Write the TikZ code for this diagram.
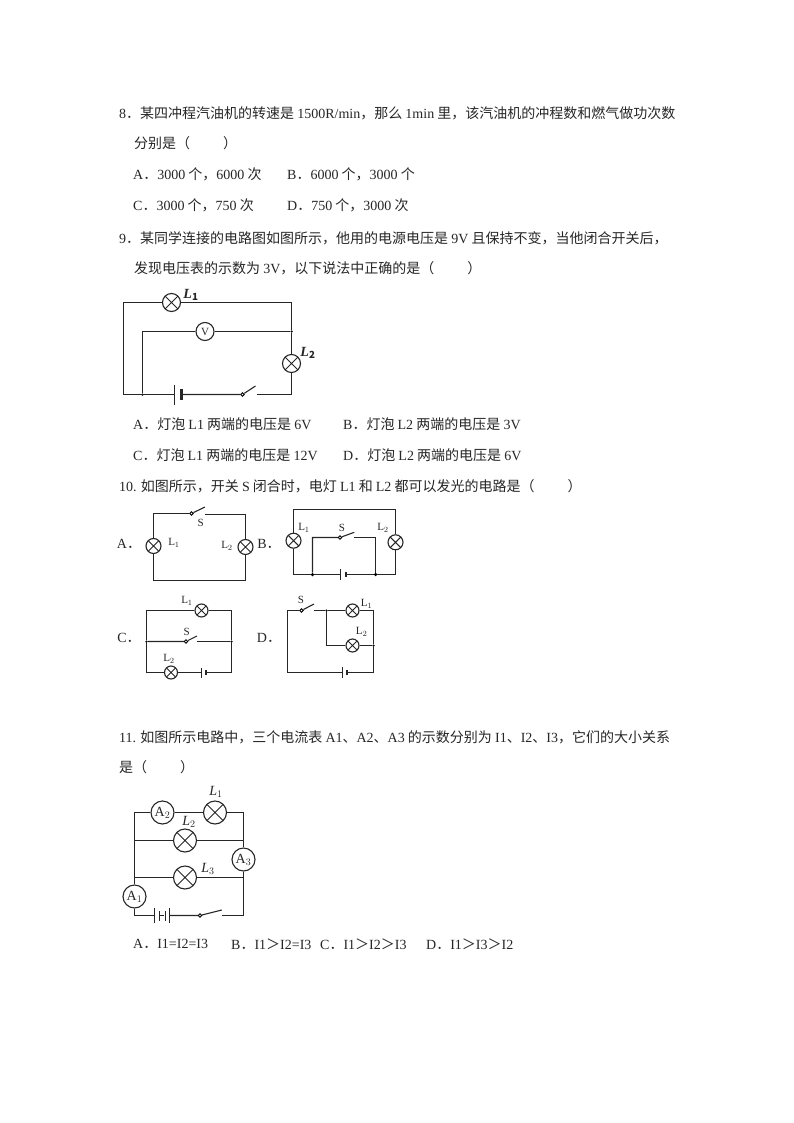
\documentclass[tikz,border=0pt]{standalone}
\usepackage{fontspec}
\setmainfont{Noto Sans CJK SC}
\newfontfamily\latfont{Liberation Serif}
\newcommand{\lat}[1]{{\latfont #1}}
\newcommand{\gap}{\hspace{33pt}}
\usetikzlibrary{positioning}
\tikzset{
  wire/.style={line width=1.1pt,black!85},
  lamp/.style={circle,draw,line width=1.1pt,black!85,inner sep=0pt,minimum size=#1,
    path picture={\draw[line width=1pt,black!85]
      (path picture bounding box.north west) -- (path picture bounding box.south east)
      (path picture bounding box.north east) -- (path picture bounding box.south west);}},
  meter/.style={circle,draw,line width=1.1pt,black!85,inner sep=0pt,minimum size=#1,font=\latfont\fontsize{14}{14}\selectfont},
  post/.style={circle,draw,fill=white,line width=0.8pt,inner sep=0pt,minimum size=3.5pt},
  junc/.style={circle,fill=black,inner sep=0pt,minimum size=3.5pt},
  plate/.style={fill=black!85,inner sep=0pt,minimum width=#1},
  line/.style={right,inner sep=0pt,font=\fontsize{14}{14}\selectfont,text=black!85},
  tag/.style={inner sep=0pt,font=\latfont\fontsize{11}{11}\selectfont,text=black!85},
  choice/.style={inner sep=0pt,font=\fontsize{14}{14}\selectfont,text=black!85},
  bigtag/.style={inner sep=0pt,font=\latfont\bfseries\itshape\fontsize{14}{14}\selectfont,text=black!85},
  slanttag/.style={inner sep=0pt,font=\latfont\itshape\fontsize{14}{14}\selectfont,text=black!85}
}
\begin{document}
\begin{tikzpicture}[x=1pt,y=-1pt]
\useasboundingbox (0,0) rectangle (794,1123);

\foreach \y/\x/\t [count=\n] in {
  113/119/{\lat{8}．某四冲程汽油机的转速是 \lat{1500R/min}，那么 \lat{1min} 里，该汽油机的冲程数和燃气做功次数},
  143/134/{分别是（\gap ）},
  174/133/{\lat{A}．\lat{3000} 个，\lat{6000} 次},
  174/287/{\lat{B}．\lat{6000} 个，\lat{3000} 个},
  205/133/{\lat{C}．\lat{3000} 个，\lat{750} 次},
  205/287/{\lat{D}．\lat{750} 个，\lat{3000} 次},
  238/119/{\lat{9}．某同学连接的电路图如图所示，他用的电源电压是 \lat{9V} 且保持不变，当他闭合开关后，},
  268/134/{发现电压表的示数为 \lat{3V}，以下说法中正确的是（\gap ）},
  424/133/{\lat{A}．灯泡 \lat{L1} 两端的电压是 \lat{6V}},
  424/343/{\lat{B}．灯泡 \lat{L2} 两端的电压是 \lat{3V}},
  455/133/{\lat{C}．灯泡 \lat{L1} 两端的电压是 \lat{12V}},
  455/343/{\lat{D}．灯泡 \lat{L2} 两端的电压是 \lat{6V}},
  486/119/{\lat{10.} 如图所示，开关 \lat{S} 闭合时，电灯 \lat{L1} 和 \lat{L2} 都可以发光的电路是（\gap ）},
  737/119/{\lat{11.} 如图所示电路中，三个电流表 \lat{A1}、\lat{A2}、\lat{A3} 的示数分别为 \lat{I1}、\lat{I2}、\lat{I3}，它们的大小关系},
  767/119/{是（\gap ）},
  944/133/{\lat{A}．\lat{I1=I2=I3}},
  944/231/{\lat{B}．\lat{I1}＞\lat{I2=I3}},
  944/320/{\lat{C}．\lat{I1}＞\lat{I2}＞\lat{I3}},
  944/426/{\lat{D}．\lat{I1}＞\lat{I3}＞\lat{I2}}}
  \node[line] (txt\n) at (\x,\y) {\t};

\node[lamp=18pt] (p1) at (171.5,302.5) {};
\node[lamp=18pt] (p2) at (291.5,363.5) {};
\node[meter=18pt] (pv) at (205,331.5) {\fontsize{11}{11}\selectfont V};
\node[junc,minimum size=2.5pt] (pj1) at (291.5,331.5) {};
\node[junc,minimum size=2.5pt] (pj2) at (142.5,394.5) {};
\node[plate=1pt,minimum height=20pt] (pb1) at (174.5,394.5) {};
\node[plate=3pt,minimum height=11pt] (pb2) at (181,394.5) {};
\node[post] (ps) at (242.5,394.5) {};
\coordinate (pt) at (255.5,386);
\coordinate (pr) at (256.5,394.5);
\coordinate (pc1) at (123.5,302.5);
\coordinate (pc2) at (291.5,302.5);
\coordinate (pc3) at (142.5,331.5);
\coordinate (pc4) at (123.5,394.5);
\coordinate (pc5) at (291.5,394.5);
\draw[wire] (pb1) -- (pc4) -- (pc1) -- (p1) -- (pc2) -- (pj1) -- (p2) -- (pc5) -- (pr);
\draw[wire] (pj1) -- (pv) -- (pc3) -- (pj2);
\draw[wire] (pb2) -- (ps) -- (pt);
\node[bigtag] (pl1) at (191,295) {L$_{\mathbf 1}$};
\node[bigtag] (pl2) at (308,352.7) {L$_{\mathbf 2}$};

\node[choice] (qa) at (129,544) {\lat{A}．};
\node[lamp=15pt] (a1) at (153.5,546) {};
\node[lamp=15pt] (a2) at (245.5,547) {};
\node[post] (as) at (191.5,513.5) {};
\coordinate (at) at (205,507);
\coordinate (ar) at (205,514.5);
\coordinate (ac1) at (153.5,513.5);
\coordinate (ac2) at (245.5,514.5);
\coordinate (ac3) at (245.5,580.5);
\coordinate (ac4) at (153.5,580.5);
\draw[wire] (as) -- (ac1) -- (a1) -- (ac4) -- (ac3) -- (a2) -- (ac2) -- (ar);
\draw[wire] (as) -- (at);
\node[tag] (al1) at (174,542.7) {L$_{1}$};
\node[tag] (al2) at (227,546) {L$_{2}$};
\node[tag] (asl) at (200.7,522.7) {S};

\node[choice] (qb) at (269,544) {\lat{B}．};
\node[lamp=15pt] (b1) at (293.5,540.7) {};
\node[lamp=15pt] (b2) at (395.5,542.3) {};
\node[junc] (bj1) at (312.5,574.5) {};
\node[junc] (bj2) at (375.5,574.5) {};
\node[plate=1pt,minimum height=11pt] (bb1) at (340.5,574.5) {};
\node[plate=2pt,minimum height=5pt] (bb2) at (346,574.5) {};
\node[post] (bs) at (340,537.5) {};
\coordinate (bt) at (354.3,532.3);
\coordinate (br) at (354.3,537.5);
\coordinate (bc1) at (293.5,509.5);
\coordinate (bc2) at (395.5,509.5);
\coordinate (bc3) at (293.5,574.5);
\coordinate (bc4) at (395.5,574.5);
\coordinate (bc5) at (312.5,537.5);
\coordinate (bc6) at (375.5,537.5);
\draw[wire] (bb1) -- (bj1) -- (bc3) -- (b1) -- (bc1) -- (bc2) -- (b2) -- (bc4) -- (bj2) -- (bb2);
\draw[wire] (bj1) -- (bc5) -- (bs) -- (bt);
\draw[wire] (br) -- (bc6) -- (bj2);
\node[tag] (bl1) at (304,528) {L$_{1}$};
\node[tag] (bl2) at (383,528) {L$_{2}$};
\node[tag] (bsl) at (342,528) {S};

\node[choice] (qc) at (129,638) {\lat{C}．};
\node[lamp=13pt] (c1) at (201.5,610.5) {};
\node[lamp=13pt] (c2) at (171,672.5) {};
\node[junc,minimum size=2.5pt] (cj1) at (146.5,641.5) {};
\node[junc,minimum size=2.5pt] (cj2) at (231.5,641.5) {};
\node[post] (cs) at (186,641.5) {};
\node[plate=1pt,minimum height=10pt] (cb1) at (201.5,672.5) {};
\node[plate=2pt,minimum height=5pt] (cb2) at (206,672.5) {};
\coordinate (ct) at (197,636);
\coordinate (cr) at (197,641.5);
\coordinate (cc1) at (146.5,610.5);
\coordinate (cc2) at (231.5,610.5);
\coordinate (cc3) at (146.5,672.5);
\coordinate (cc4) at (231.5,672.5);
\draw[wire] (cj1) -- (cc1) -- (c1) -- (cc2) -- (cj2) -- (cc4) -- (cb2);
\draw[wire] (cj1) -- (cc3) -- (c2) -- (cb1);
\draw[wire] (cj1) -- (cs) -- (ct);
\draw[wire] (cr) -- (cj2);
\node[tag] (cl1) at (187,601) {L$_{1}$};
\node[tag] (cl2) at (169,659) {L$_{2}$};
\node[tag] (csl) at (186.7,631.7) {S};

\node[choice] (qd) at (269,638) {\lat{D}．};
\node[lamp=13pt] (d1) at (352.5,610.5) {};
\node[lamp=13pt] (d2) at (352.5,645.5) {};
\node[junc,minimum size=2.5pt] (dj1) at (326.5,610.5) {};
\node[junc,minimum size=2.5pt] (dj2) at (373.5,645.5) {};
\node[post] (ds) at (301.5,610.5) {};
\node[plate=1pt,minimum height=11pt] (db1) at (342.5,672.5) {};
\node[plate=2pt,minimum height=5pt] (db2) at (347,672.5) {};
\coordinate (dt) at (314,604);
\coordinate (dr) at (314,610.5);
\coordinate (dc1) at (287.5,610.5);
\coordinate (dc2) at (373.5,610.5);
\coordinate (dc3) at (287.5,672.5);
\coordinate (dc4) at (373.5,672.5);
\coordinate (dc5) at (326.5,645.5);
\draw[wire] (ds) -- (dc1) -- (dc3) -- (db1);
\draw[wire] (ds) -- (dt);
\draw[wire] (dr) -- (dj1) -- (d1) -- (dc2) -- (dj2) -- (dc4) -- (db2);
\draw[wire] (dj1) -- (dc5) -- (d2) -- (dj2);
\node[tag] (dl1) at (366.7,604) {L$_{1}$};
\node[tag] (dl2) at (361.7,631.7) {L$_{2}$};
\node[tag] (dsl) at (301,600) {S};

\node[meter=23pt] (m2) at (162.5,812.5) {A$_{2}$};
\node[meter=23pt] (m3) at (243.5,859.5) {A$_{3}$};
\node[meter=23pt] (m1) at (134.5,896.5) {A$_{1}$};
\node[lamp=23pt] (r1) at (215,812.5) {};
\node[lamp=23pt] (r2) at (185,840.5) {};
\node[lamp=23pt] (r3) at (185,877.5) {};
\node[plate=0.8pt,minimum height=15pt] (rb1) at (154.5,915.5) {};
\node[plate=0.8pt,minimum height=10pt] (rb2) at (159.5,915.5) {};
\node[plate=0.8pt,minimum height=10pt] (rb3) at (165,915.5) {};
\node[plate=0.8pt,minimum height=15pt] (rb4) at (169.5,915.5) {};
\node[post] (rs) at (200,915.5) {};
\coordinate (rt) at (221.7,910);
\coordinate (rr) at (222,915.5);
\coordinate (rc1) at (134.5,812.5);
\coordinate (rc2) at (243.5,812.5);
\coordinate (rc3) at (134.5,840.5);
\coordinate (rc4) at (243.5,840.5);
\coordinate (rc5) at (134.5,877.5);
\coordinate (rc6) at (243.5,877.5);
\coordinate (rc7) at (134.5,915.5);
\coordinate (rc8) at (243.5,915.5);
\draw[wire] (m1) -- (rc5) -- (rc3) -- (rc1) -- (m2) -- (r1) -- (rc2) -- (rc4) -- (m3) -- (rc6) -- (rc8) -- (rr);
\draw[wire] (rc3) -- (r2) -- (rc4);
\draw[wire] (rc5) -- (r3) -- (rc6);
\draw[wire] (m1) -- (rc7) -- (rb1);
\draw[wire] (rb2) -- (rb3);
\draw[wire] (rb4) -- (rs) -- (rt);
\node[slanttag] (rl1) at (216,792) {L$_{1}$};
\node[slanttag] (rl2) at (189,822) {L$_{2}$};
\node[slanttag] (rl3) at (208,869.3) {L$_{3}$};
\end{tikzpicture}
\end{document}
